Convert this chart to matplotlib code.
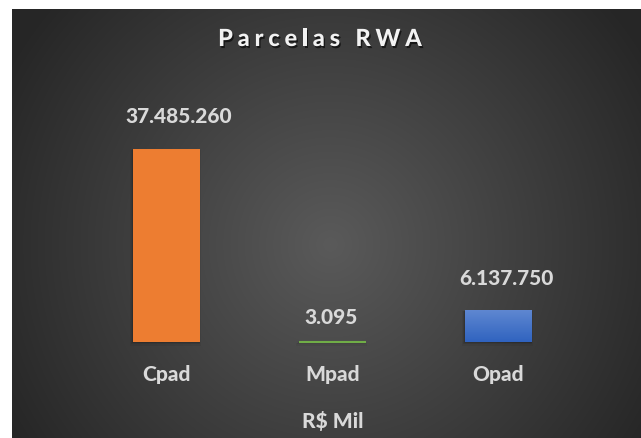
import numpy as np
import matplotlib
matplotlib.use("Agg")
import matplotlib.pyplot as plt
from matplotlib import patheffects as pe
from matplotlib import font_manager as fm
from matplotlib.patches import Rectangle

# ── dados ────────────────────────────────────────────────────────────────
CATEGORIAS = ["Cpad", "Mpad", "Opad"]
VALORES = [37485260, 3095, 6137750]
ROTULOS = ["37.485.260", "3.095", "6.137.750"]
TITULO = "Parcelas RWA"
EIXO_X = "R$ Mil"

# ── estilo ───────────────────────────────────────────────────────────────
CORES = ["#ED7D31", "#70AD47", "#4472C4"]
TXT = "#D9D9D9"
W, H = 641, 439
DPI = 100


def fonte_negrito(tam):
    # procura o arquivo Lato Heavy/Bold; senão, DejaVu Sans negrito
    arqs = {f.fname.split("/")[-1]: f.fname for f in fm.fontManager.ttflist}
    for nome in ("Lato-Heavy.ttf", "Lato-Bold.ttf"):
        if nome in arqs:
            return fm.FontProperties(fname=arqs[nome], size=tam)
    return fm.FontProperties(family="DejaVu Sans", weight="bold", size=tam)


fp = fonte_negrito(15)

fig = plt.figure(figsize=(W / DPI, H / DPI), dpi=DPI, facecolor="white")

# fundo com gradiente radial (estilo Excel)
x0, y0 = 12, 10
bg = fig.add_axes([x0 / W, 0, (W - x0) / W, (H - y0) / H])
gx, gy = np.meshgrid(np.arange(x0, W), np.arange(y0, H))
r = np.hypot(gx - 330, gy - 245)
c = np.clip(90 - 0.14 * r, 38, 90) / 255
bg.imshow(np.dstack([c, c, c]), aspect="auto", interpolation="bilinear")
bg.axis("off")

# área do gráfico
base_px = 343          # linha de base (px a partir do topo)
alt_px = 193           # altura da maior barra em px
ax_h = 300
ax = fig.add_axes([83.5 / W, (H - base_px) / H, 498 / W, ax_h / H])
ax.patch.set_alpha(0)
ymax = max(VALORES) * ax_h / alt_px

xs = np.arange(len(CATEGORIAS))
larg = 0.40
bars = ax.bar(xs, VALORES, width=larg, color=CORES, zorder=2)
# sombra suave atrás das barras
for b in bars:
    for k, a in enumerate([0.12, 0.08, 0.05]):
        d = 0.006 * (k + 1)
        ax.add_patch(Rectangle((b.get_x() - d, -ymax * 0.004 * (k + 1)),
                               b.get_width() + 1.4 * d, b.get_height() + ymax * 0.003 * (k + 1),
                               color="black", alpha=a, lw=0, zorder=1, clip_on=False))
# gradiente leve na barra azul
b = bars[2]
grad = np.linspace(0, 1, 50)[:, None]
azul = np.array([[0.19, 0.39, 0.75]]) * (1 - grad) + np.array([[0.37, 0.53, 0.82]]) * grad
ax.imshow(azul[:, None, :], extent=[b.get_x(), b.get_x() + b.get_width(), 0, b.get_height()],
          origin="lower", aspect="auto", zorder=3)
# barra Mpad praticamente nula: linha verde
ax.plot([xs[1] - larg / 2, xs[1] + larg / 2], [VALORES[1], VALORES[1]],
        color=CORES[1], lw=1.5, solid_capstyle="butt", zorder=5, clip_on=False)
ax.set_xlim(-0.5, 2.5)
ax.set_ylim(0, ymax)

# rótulos de valor
desloc = [(12, 33.5), (-1, 25.5), (7.5, 32.5)]
for x, v, s, (dx, dy) in zip(xs, VALORES, ROTULOS, desloc):
    ax.annotate(s, (x, v), xytext=(dx, dy), textcoords="offset pixels",
                ha="center", va="center", fontproperties=fp, color=TXT)

# eixos
for sp in ax.spines.values():
    sp.set_visible(False)
ax.set_yticks([])
ax.set_xticks(xs, CATEGORIAS)
ax.tick_params(axis="x", length=0, pad=16, labelcolor=TXT)
for t in ax.get_xticklabels():
    t.set_fontproperties(fp)
ax.set_xlabel(EIXO_X, fontproperties=fp, color=TXT, labelpad=19)

# título com espaçamento entre letras
fig.canvas.draw()
rend = fig.canvas.get_renderer()
fpt = fonte_negrito(17)
esp = 4.8
larguras = [rend.get_text_width_height_descent(TITULO[:i], fpt, ismath=False)[0]
            for i in range(len(TITULO) + 1)]
total = larguras[-1] + esp * (len(TITULO) - 1)
x_ini = 320 - total / 2
sombra = [pe.SimplePatchShadow(offset=(1, -1.5), shadow_rgbFace="black", alpha=0.6), pe.Normal()]
for i, ch in enumerate(TITULO):
    fig.text((x_ini + larguras[i] + esp * i) / W, 1 - 47 / H, ch, ha="left", va="baseline",
             fontproperties=fpt, color="#F2F2F2", path_effects=sombra)

fig.savefig("out.png", dpi=DPI, facecolor="white")
